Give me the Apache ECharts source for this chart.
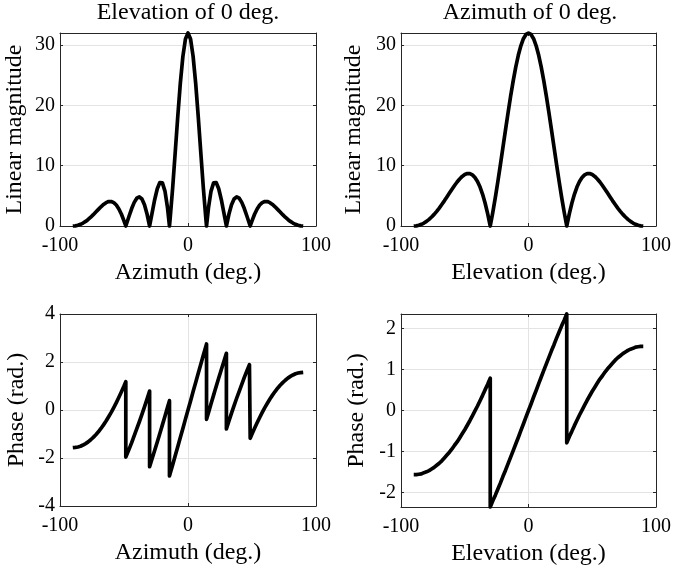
<!DOCTYPE html>
<html>
<head>
<meta charset="utf-8">
<script src="https://cdn.jsdelivr.net/npm/echarts@6/dist/echarts.min.js"></script>
<style>
  html, body { margin: 0; padding: 0; background: #fff; }
  #chart { width: 674px; height: 567px; }
</style>
</head>
<body>
<div id="chart"></div>
<script>
// azimuth cut (elevation 0 deg.), extra points at the nulls
const azDeg = [-90,-88,-86,-84,-82,-80,-78,-76,-74,-72,-70,-68,-66,-64,-62,-60,-58,-56,-54,-52,-50,-48.59,-48.59,
  -48,-46,-44,-42,-40,-38,-36,-34,-32,-30,-30,-28,-26,-24,-22,-21,-20,-18,-16,-14.48,-14.48,
  -14,-12,-10,-8,-6,-4,-2,0,2,4,6,8,10,12,14,14.48,14.48,16,18,20,21,22,24,26,28,30,30,
  32,34,36,38,40,42,44,46,48,48.59,48.59,50,52,54,56,58,60,62,64,66,68,70,72,74,76,78,80,82,84,86,88,90];
const azMag = [0,0.03,0.12,0.28,0.49,0.76,1.09,1.46,1.88,2.32,2.76,3.19,3.57,3.87,4.05,4.06,3.88,3.48,2.83,1.95,0.86,0,0,
  0.37,1.66,2.89,3.92,4.61,4.83,4.48,3.52,1.99,0,0,2.23,4.40,6.18,7.21,7.33,7.15,5.79,3.02,0,0,
  1.09,6.29,12.16,18.15,23.67,28.11,31.00,32,31.00,28.11,23.67,18.15,12.16,6.29,1.09,0,0,3.02,5.79,7.15,7.33,7.21,6.18,4.40,2.23,0,0,
  1.99,3.52,4.48,4.83,4.61,3.92,2.89,1.66,0.37,0,0,0.86,1.95,2.83,3.48,3.88,4.06,4.05,3.87,3.57,3.19,2.76,2.32,1.88,1.46,1.09,0.76,0.49,0.28,0.12,0.03,0];
const azPhase = [-1.57,-1.56,-1.54,-1.51,-1.46,-1.40,-1.33,-1.24,-1.14,-1.03,-0.91,-0.77,-0.62,-0.46,-0.28,-0.10,0.10,0.31,0.53,0.76,1.00,1.18,-1.96,
  -1.89,-1.63,-1.36,-1.07,-0.78,-0.49,-0.18,0.13,0.46,0.79,-2.36,-2.02,-1.68,-1.33,-0.98,-0.80,-0.62,-0.26,0.11,0.39,-2.75,
  -2.66,-2.29,-1.91,-1.53,-1.15,-0.77,-0.38,0,0.38,0.77,1.15,1.53,1.91,2.29,2.66,2.75,-0.39,-0.11,0.26,0.62,0.80,0.98,1.33,1.68,2.02,2.36,-0.79,
  -0.46,-0.13,0.18,0.49,0.78,1.07,1.36,1.63,1.89,1.96,-1.18,-1.00,-0.76,-0.53,-0.31,-0.10,0.10,0.28,0.46,0.62,0.77,0.91,1.03,1.14,1.24,1.33,1.40,1.46,1.51,1.54,1.56,1.57];

// elevation cut (azimuth 0 deg.)
const elDeg = [-90,-88,-86,-84,-82,-80,-78,-76,-74,-72,-70,-68,-66,-64,-62,-60,-58,-56,-54,-52,-50,-48,-46,-44,-42,-40,-38,-36,-34,-32,-30,-30,
  -28,-26,-24,-22,-20,-18,-16,-14,-12,-10,-8,-6,-4,-2,0,2,4,6,8,10,12,14,16,18,20,22,24,26,28,30,30,
  32,34,36,38,40,42,44,46,48,50,52,54,56,58,60,62,64,66,68,70,72,74,76,78,80,82,84,86,88,90];
const elMag = [0,0.03,0.12,0.28,0.49,0.76,1.10,1.49,1.93,2.43,2.97,3.56,4.17,4.81,5.46,6.10,6.72,7.30,7.80,8.22,8.53,8.69,8.68,8.48,8.05,7.38,6.46,5.26,3.78,2.02,0,0,
  2.27,4.75,7.42,10.22,13.09,15.98,18.82,21.54,24.07,26.34,28.30,29.88,31.05,31.76,32,31.76,31.05,29.88,28.30,26.34,24.07,21.54,18.82,15.98,13.09,10.22,7.42,4.75,2.27,0,0,
  2.02,3.78,5.26,6.46,7.38,8.05,8.48,8.68,8.69,8.53,8.22,7.80,7.30,6.72,6.10,5.46,4.81,4.17,3.56,2.97,2.43,1.93,1.49,1.10,0.76,0.49,0.28,0.12,0.03,0];
const elPhase = [-1.57,-1.57,-1.56,-1.55,-1.52,-1.50,-1.47,-1.43,-1.39,-1.34,-1.29,-1.23,-1.16,-1.09,-1.02,-0.94,-0.85,-0.77,-0.67,-0.57,-0.47,-0.36,-0.25,-0.13,-0.01,0.11,0.24,0.37,0.51,0.64,0.79,-2.36,
  -2.21,-2.07,-1.92,-1.77,-1.61,-1.46,-1.30,-1.14,-0.98,-0.82,-0.66,-0.49,-0.33,-0.16,0,0.16,0.33,0.49,0.66,0.82,0.98,1.14,1.30,1.46,1.61,1.77,1.92,2.07,2.21,2.36,-0.79,
  -0.64,-0.51,-0.37,-0.24,-0.11,0.01,0.13,0.25,0.36,0.47,0.57,0.67,0.77,0.85,0.94,1.02,1.09,1.16,1.23,1.29,1.34,1.39,1.43,1.47,1.50,1.52,1.55,1.56,1.57,1.57];

const titles = ['Elevation of 0 deg.', 'Azimuth of 0 deg.'];
const xNames = ['Azimuth (deg.)', 'Elevation (deg.)', 'Azimuth (deg.)', 'Elevation (deg.)'];
const yNames = ['Linear magnitude', 'Linear magnitude', 'Phase (rad.)', 'Phase (rad.)'];

let chart = echarts.init(document.getElementById('chart'));
const font = "'Liberation Serif', 'DejaVu Serif', serif";
const boxColor = '#262626';

let grids = [
  { left: 60, top: 33, width: 256, height: 193 },
  { left: 401, top: 33, width: 258, height: 193 },
  { left: 60, top: 314, width: 256, height: 192 },
  { left: 401, top: 314, width: 258, height: 193 }
];
let yRanges = [
  { min: 0, max: 32, interval: 10 },
  { min: 0, max: 32, interval: 10 },
  { min: -4, max: 4, interval: 2 },
  { min: -2.36, max: 2.36, splitNumber: 5 }
];
let yNameGap = [33, 35, 31, 32];

let xAxis = [], yAxis = [];
grids.forEach((g, i) => {
  // bottom axis with labels
  xAxis.push({
    type: 'value', gridIndex: i, min: -100, max: 100, interval: 100,
    name: xNames[i], nameLocation: 'middle', nameGap: 35,
    nameTextStyle: { fontFamily: font, fontSize: 24, color: '#000' },
    axisLine: { onZero: false, lineStyle: { color: boxColor, width: 1 } },
    axisTick: { inside: true, length: 3, lineStyle: { color: boxColor } },
    axisLabel: { fontFamily: font, fontSize: 20, color: '#000', margin: 10 },
    splitLine: { show: true, lineStyle: { color: '#e3e3e3', width: 1 } }
  });
  // top edge of the box
  xAxis.push({
    type: 'value', gridIndex: i, position: 'top', min: -100, max: 100, interval: 100,
    axisLine: { onZero: false, lineStyle: { color: boxColor, width: 1 } },
    axisTick: { inside: true, length: 3, lineStyle: { color: boxColor } },
    axisLabel: { show: false }, splitLine: { show: false }
  });
  let r = yRanges[i];
  yAxis.push(Object.assign({
    type: 'value', gridIndex: i,
    name: yNames[i], nameLocation: 'middle', nameGap: yNameGap[i],
    nameTextStyle: { fontFamily: font, fontSize: 24, color: '#000' },
    axisLine: { show: true, onZero: false, lineStyle: { color: boxColor, width: 1 } },
    axisTick: { show: true, inside: true, length: 3, lineStyle: { color: boxColor } },
    axisLabel: { fontFamily: font, fontSize: 20, color: '#000', margin: 5, showMaxLabel: i == 3 ? false : null, showMinLabel: i == 3 ? false : null,
      formatter: v => (Math.abs(v - Math.round(v)) > 1e-6 ? '' : String(v)) },
    splitLine: { show: true, lineStyle: { color: '#e3e3e3', width: 1 } }
  }, r));
  // right edge of the box
  yAxis.push(Object.assign({
    type: 'value', gridIndex: i, position: 'right',
    axisLine: { show: true, onZero: false, lineStyle: { color: boxColor, width: 1 } },
    axisTick: { show: true, inside: true, length: 3, lineStyle: { color: boxColor } },
    axisLabel: { show: false }, splitLine: { show: false }
  }, r));
});

function line(xs, ys, idx) {
  return {
    type: 'line', xAxisIndex: idx * 2, yAxisIndex: idx * 2,
    data: xs.map((x, k) => [x, ys[k]]),
    showSymbol: false, smooth: false, clip: false,
    lineStyle: { color: '#000', width: 3.7, join: 'round' },
    z: 5
  };
}

let option = {
  backgroundColor: '#fff',
  animation: false,
  title: [
    { text: titles[0], left: 188, top: 1, textAlign: 'center', padding: 0,
      textStyle: { fontFamily: font, fontSize: 24, fontWeight: 'normal', color: '#000' } },
    { text: titles[1], left: 530, top: 1, textAlign: 'center', padding: 0,
      textStyle: { fontFamily: font, fontSize: 24, fontWeight: 'normal', color: '#000' } }
  ],
  grid: grids,
  xAxis,
  yAxis,
  series: [
    line(azDeg, azMag, 0),
    line(elDeg, elMag, 1),
    line(azDeg, azPhase, 2),
    line(elDeg, elPhase, 3)
  ]
};
chart.setOption(option);
</script>
</body>
</html>
